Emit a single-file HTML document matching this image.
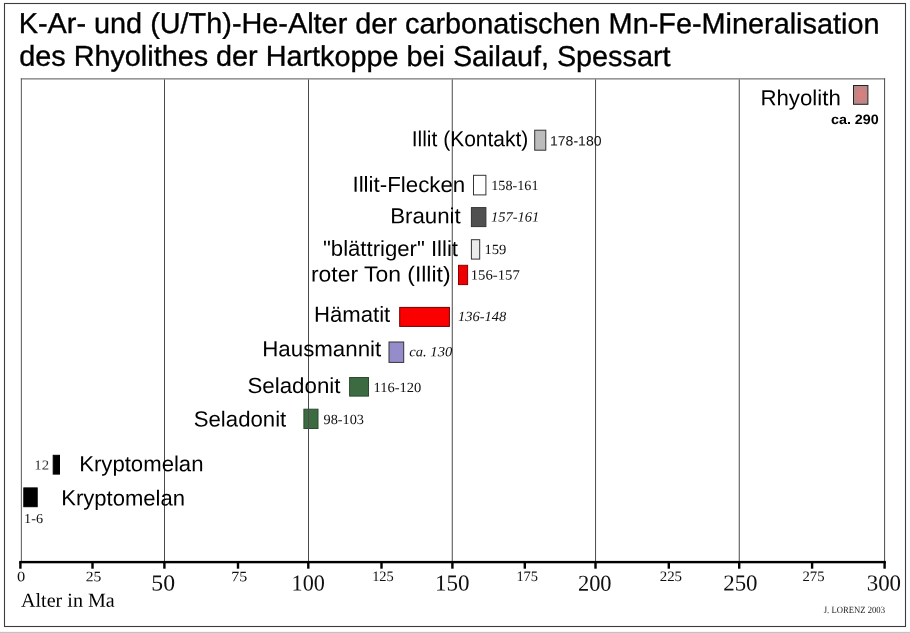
<!DOCTYPE html>
<html><head><meta charset="utf-8"><title>K-Ar- und (U/Th)-He-Alter</title>
<style>
html,body{margin:0;padding:0;background:#fff;}
body{width:910px;height:633px;overflow:hidden;font-family:"Liberation Sans",sans-serif;}
svg{display:block}
.sa{font-family:"Liberation Sans",sans-serif}
.se{font-family:"Liberation Serif",serif}
</style></head><body>
<svg width="910" height="633" viewBox="0 0 910 633" style="will-change:transform">
<defs><radialGradient id="rg" cx="0.55" cy="0.5" r="0.6"><stop offset="0" stop-color="#e27c7c"/><stop offset="1" stop-color="#b08a8a"/></radialGradient></defs>
<rect x="0" y="0" width="910" height="633" fill="#ffffff"/>
<rect x="0" y="631.85" width="910" height="1.2" fill="#c2c2c2"/>
<rect x="4.5" y="3.5" width="901" height="623" fill="none" stroke="#3c3c3c" stroke-width="1.1"/>
<rect id="b_rhy" x="853.5" y="85.5" width="14.4" height="18.8" fill="url(#rg)" stroke="#2a2020" stroke-width="1"/>
<rect id="b_ilk" x="534.7" y="130.2" width="11.1" height="20.0" fill="#bcbcbc" stroke="#333" stroke-width="1"/>
<rect id="b_ilf" x="473.5" y="175.3" width="12.4" height="19.6" fill="#ffffff" stroke="#333" stroke-width="1"/>
<rect id="b_bra" x="471.4" y="207.6" width="14.5" height="19.0" fill="#505050" stroke="#333" stroke-width="1"/>
<rect id="b_bla" x="471.4" y="239.7" width="8.3" height="19.4" fill="#ebebeb" stroke="#333" stroke-width="1"/>
<rect id="b_rot" x="458.5" y="265.3" width="9.1" height="19.3" fill="#ee0000" stroke="#8a0000" stroke-width="1"/>
<rect id="b_hae" x="399.7" y="307.4" width="49.7" height="19.0" fill="#fa0000" stroke="#700000" stroke-width="1"/>
<rect id="b_hau" x="389.0" y="342.0" width="14.7" height="20.4" fill="#948ccb" stroke="#333" stroke-width="1"/>
<rect id="b_se1" x="349.6" y="377.5" width="18.9" height="18.6" fill="#3d6b41" stroke="#2c4a2e" stroke-width="1"/>
<rect id="b_se2" x="303.9" y="409.2" width="14.1" height="19.3" fill="#3d6b41" stroke="#2c4a2e" stroke-width="1"/>
<rect id="b_kr1" x="53.2" y="455.3" width="6.3" height="18.8" fill="#000" stroke="#000" stroke-width="1"/>
<rect id="b_kr2" x="23.8" y="487.9" width="13.4" height="18.8" fill="#000" stroke="#000" stroke-width="1"/>
<g stroke="#4a4a4a" stroke-width="1" fill="none">
<line x1="21.35" y1="78.4" x2="21.35" y2="562" stroke="#555"/>
<line x1="20.85" y1="78.9" x2="885.1" y2="78.9" stroke="#555"/>
<line x1="884.6" y1="78.4" x2="884.6" y2="562"/>
<line x1="164.5" y1="79.4" x2="164.5" y2="562"/>
<line x1="308.5" y1="79.4" x2="308.5" y2="562"/>
<line x1="452.25" y1="79.4" x2="452.25" y2="562"/>
<line x1="595.55" y1="79.4" x2="595.55" y2="562"/>
<line x1="739.25" y1="79.4" x2="739.25" y2="562"/>
</g>
<rect x="19.3" y="560.9" width="866.5" height="2.4" fill="#000"/>
<rect x="19.2" y="561.5" width="2.4" height="7.2" fill="#000"/>
<rect x="91.3" y="561.5" width="2.4" height="7.2" fill="#000"/>
<rect x="163.2" y="561.5" width="2.4" height="7.2" fill="#000"/>
<rect x="236.8" y="561.5" width="2.4" height="7.2" fill="#000"/>
<rect x="307.1" y="561.5" width="2.4" height="7.2" fill="#000"/>
<rect x="380.3" y="561.5" width="2.4" height="7.2" fill="#000"/>
<rect x="451.2" y="561.5" width="2.4" height="7.2" fill="#000"/>
<rect x="523.6" y="561.5" width="2.4" height="7.2" fill="#000"/>
<rect x="594.3" y="561.5" width="2.4" height="7.2" fill="#000"/>
<rect x="667.6" y="561.5" width="2.4" height="7.2" fill="#000"/>
<rect x="738.0" y="561.5" width="2.4" height="7.2" fill="#000"/>
<rect x="810.9" y="561.5" width="2.4" height="7.2" fill="#000"/>
<rect x="883.4" y="561.5" width="2.4" height="7.2" fill="#000"/>
<text id="t1" class="sa" x="18.74" y="33.20" font-size="28.7" stroke="#000" stroke-width="0.35" fill="#000" textLength="860.77" lengthAdjust="spacingAndGlyphs" transform="rotate(0.03 449.3 33.20)">K-Ar- und (U/Th)-He-Alter der carbonatischen Mn-Fe-Mineralisation</text>
<text id="t2" class="sa" x="19.25" y="65.90" font-size="28.7" stroke="#000" stroke-width="0.35" fill="#000" textLength="651.25" lengthAdjust="spacingAndGlyphs" transform="rotate(0.03 345.4 65.90)">des Rhyolithes der Hartkoppe bei Sailauf, Spessart</text>
<text id="l_rhy" class="sa" x="760.43" y="105.20" font-size="21.8" fill="#000" textLength="80.38" lengthAdjust="spacingAndGlyphs" transform="rotate(0.03 800.9 105.20)">Rhyolith</text>
<text id="l_ilk" class="sa" x="411.70" y="146.20" font-size="21.8" fill="#000" textLength="116.59" lengthAdjust="spacingAndGlyphs" transform="rotate(0.03 470.3 146.20)">Illit (Kontakt)</text>
<text id="l_ilf" class="sa" x="352.44" y="191.90" font-size="21.8" fill="#000" textLength="112.85" lengthAdjust="spacingAndGlyphs" transform="rotate(0.03 409.1 191.90)">Illit-Flecken</text>
<text id="l_bra" class="sa" x="390.20" y="223.30" font-size="21.8" fill="#000" textLength="70.55" lengthAdjust="spacingAndGlyphs" transform="rotate(0.03 426.3 223.30)">Braunit</text>
<text id="l_bla" class="sa" x="322.99" y="255.90" font-size="21.8" fill="#000" textLength="135.01" lengthAdjust="spacingAndGlyphs" transform="rotate(0.03 390.8 255.90)">&quot;blättriger&quot; Illit</text>
<text id="l_rot" class="sa" x="310.97" y="281.60" font-size="21.8" fill="#000" textLength="139.56" lengthAdjust="spacingAndGlyphs" transform="rotate(0.03 380.8 281.60)">roter Ton (Illit)</text>
<text id="l_hae" class="sa" x="313.95" y="321.80" font-size="21.8" fill="#000" textLength="76.31" lengthAdjust="spacingAndGlyphs" transform="rotate(0.03 352.9 321.80)">Hämatit</text>
<text id="l_hau" class="sa" x="262.22" y="356.30" font-size="21.8" fill="#000" textLength="119.03" lengthAdjust="spacingAndGlyphs" transform="rotate(0.03 322.5 356.30)">Hausmannit</text>
<text id="l_se1" class="sa" x="247.48" y="393.00" font-size="21.8" fill="#000" textLength="93.02" lengthAdjust="spacingAndGlyphs" transform="rotate(0.03 294.4 393.00)">Seladonit</text>
<text id="l_se2" class="sa" x="193.74" y="426.60" font-size="21.8" fill="#000" textLength="92.51" lengthAdjust="spacingAndGlyphs" transform="rotate(0.03 240.4 426.60)">Seladonit</text>
<text id="l_kr1" class="sa" x="79.20" y="471.30" font-size="21.8" fill="#000" textLength="124.33" lengthAdjust="spacingAndGlyphs" transform="rotate(0.03 141.5 471.30)">Kryptomelan</text>
<text id="l_kr2" class="sa" x="61.20" y="505.40" font-size="21.8" fill="#000" textLength="123.83" lengthAdjust="spacingAndGlyphs" transform="rotate(0.03 123.3 505.40)">Kryptomelan</text>
<text id="v_rhy" class="sa" x="830.99" y="123.90" font-size="13.6" font-weight="bold" fill="#000" textLength="47.78" lengthAdjust="spacingAndGlyphs" transform="rotate(0.03 854.8 123.90)">ca. 290</text>
<text id="v_ilk" class="sa" x="549.97" y="145.40" font-size="13.6" fill="#111" textLength="51.55" lengthAdjust="spacingAndGlyphs" transform="rotate(0.03 576.0 145.40)">178-180</text>
<text id="v_ilf" class="se" x="491.19" y="190.10" font-size="14" fill="#111" textLength="47.34" lengthAdjust="spacingAndGlyphs" transform="rotate(0.03 515.1 190.10)">158-161</text>
<text id="v_bra" class="se" x="490.97" y="221.60" font-size="14" font-style="italic" fill="#111" textLength="48.34" lengthAdjust="spacingAndGlyphs" transform="rotate(0.03 514.5 221.60)">157-161</text>
<text id="v_bla" class="se" x="484.40" y="254.00" font-size="14" fill="#111" textLength="21.92" lengthAdjust="spacingAndGlyphs" transform="rotate(0.03 495.7 254.00)">159</text>
<text id="v_rot" class="se" x="470.71" y="279.60" font-size="14" fill="#111" textLength="49.06" lengthAdjust="spacingAndGlyphs" transform="rotate(0.03 495.7 279.60)">156-157</text>
<text id="v_hae" class="se" x="457.99" y="321.10" font-size="14" font-style="italic" fill="#111" textLength="48.26" lengthAdjust="spacingAndGlyphs" transform="rotate(0.03 482.2 321.10)">136-148</text>
<text id="v_hau" class="se" x="409.24" y="356.35" font-size="14" font-style="italic" fill="#111" textLength="43.01" lengthAdjust="spacingAndGlyphs" transform="rotate(0.03 430.9 356.35)">ca. 130</text>
<text id="v_se1" class="se" x="373.45" y="391.90" font-size="14" fill="#111" textLength="47.82" lengthAdjust="spacingAndGlyphs" transform="rotate(0.03 397.6 391.90)">116-120</text>
<text id="v_se2" class="se" x="323.49" y="424.00" font-size="14" fill="#111" textLength="40.53" lengthAdjust="spacingAndGlyphs" transform="rotate(0.03 343.6 424.00)">98-103</text>
<text id="v_kr1" class="se" x="34.29" y="469.50" font-size="13.6" fill="#333" textLength="14.84" lengthAdjust="spacingAndGlyphs" transform="rotate(0.03 41.9 469.50)">12</text>
<text id="v_kr2" class="se" x="24.14" y="522.90" font-size="13.6" fill="#111" textLength="18.90" lengthAdjust="spacingAndGlyphs" transform="rotate(0.03 34.0 522.90)">1-6</text>
<text id="ax" class="se" x="21.00" y="606.70" font-size="19.9" fill="#000" textLength="93.75" lengthAdjust="spacingAndGlyphs" transform="rotate(0.03 67.8 606.70)">Alter in Ma</text>
<text id="cr" class="se" x="823.75" y="613.40" font-size="9.6" fill="#222" textLength="61.25" lengthAdjust="spacingAndGlyphs" transform="rotate(0.03 854.2 613.40)">J. LORENZ 2003</text>
<text id="n0" class="se" x="17.13" y="581.30" font-size="14.4" fill="#111" textLength="8.23" lengthAdjust="spacingAndGlyphs" transform="rotate(0.03 21.1 581.30)">0</text>
<text id="n25" class="se" x="85.69" y="581.30" font-size="14.4" fill="#111" textLength="15.60" lengthAdjust="spacingAndGlyphs" transform="rotate(0.03 93.6 581.30)">25</text>
<text id="n75" class="se" x="231.39" y="581.30" font-size="14.4" fill="#111" textLength="15.93" lengthAdjust="spacingAndGlyphs" transform="rotate(0.03 239.7 581.30)">75</text>
<text id="n125" class="se" x="372.15" y="581.00" font-size="14.4" fill="#111" textLength="21.65" lengthAdjust="spacingAndGlyphs" transform="rotate(0.03 383.3 581.00)">125</text>
<text id="n175" class="se" x="516.39" y="581.00" font-size="14.4" fill="#111" textLength="21.65" lengthAdjust="spacingAndGlyphs" transform="rotate(0.03 527.5 581.00)">175</text>
<text id="n225" class="se" x="659.71" y="581.00" font-size="14.4" fill="#111" textLength="22.33" lengthAdjust="spacingAndGlyphs" transform="rotate(0.03 670.8 581.00)">225</text>
<text id="n275" class="se" x="802.47" y="581.10" font-size="14.4" fill="#111" textLength="22.06" lengthAdjust="spacingAndGlyphs" transform="rotate(0.03 813.6 581.10)">275</text>
<text id="n50" class="se" x="151.36" y="590.60" font-size="22.8" fill="#111" textLength="23.74" lengthAdjust="spacingAndGlyphs" transform="rotate(0.03 163.4 590.60)">50</text>
<text id="n100" class="se" x="291.57" y="590.60" font-size="22.8" fill="#111" textLength="33.25" lengthAdjust="spacingAndGlyphs" transform="rotate(0.03 308.8 590.60)">100</text>
<text id="n150" class="se" x="435.07" y="590.60" font-size="22.8" fill="#111" textLength="34.52" lengthAdjust="spacingAndGlyphs" transform="rotate(0.03 452.9 590.60)">150</text>
<text id="n200" class="se" x="577.94" y="590.70" font-size="22.8" fill="#111" textLength="33.60" lengthAdjust="spacingAndGlyphs" transform="rotate(0.03 594.9 590.70)">200</text>
<text id="n250" class="se" x="723.19" y="590.60" font-size="22.8" fill="#111" textLength="34.35" lengthAdjust="spacingAndGlyphs" transform="rotate(0.03 740.5 590.60)">250</text>
<text id="n300" class="se" x="866.69" y="590.60" font-size="22.8" fill="#111" textLength="34.37" lengthAdjust="spacingAndGlyphs" transform="rotate(0.03 884.0 590.60)">300</text>
</svg>
</body></html>
